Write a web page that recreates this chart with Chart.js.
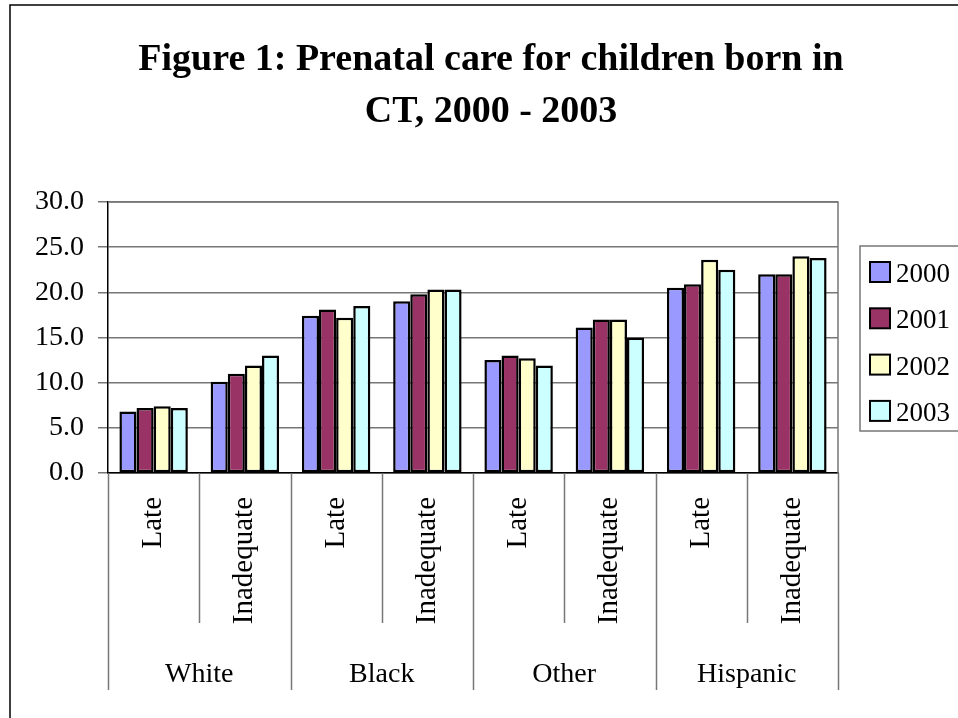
<!DOCTYPE html>
<html>
<head>
<meta charset="utf-8">
<script src="https://cdn.jsdelivr.net/npm/chart.js@4.4.1/dist/chart.umd.min.js"></script>
<style>
  html, body { margin: 0; padding: 0; background: #fff; }
  #wrap { width: 958px; height: 718px; }
</style>
</head>
<body>
<div id="wrap"><canvas id="grafico" width="958" height="718"></canvas></div>
<script>
// ================= DADOS =================
const tituloLinhas = ['Figure 1: Prenatal care for children born in', 'CT, 2000 - 2003'];
const grupos = ['White', 'Black', 'Other', 'Hispanic'];
const categorias = ['Late', 'Inadequate', 'Late', 'Inadequate', 'Late', 'Inadequate', 'Late', 'Inadequate'];
const anos = ['2000', '2001', '2002', '2003'];
const v2000 = [6.8, 10.1, 17.4, 19.0, 12.5, 16.1, 20.5, 22.0];
const v2001 = [7.2, 11.0, 18.1, 19.8, 13.0, 17.0, 20.9, 22.0];
const v2002 = [7.4, 11.9, 17.2, 20.3, 12.7, 17.0, 23.6, 24.0];
const v2003 = [7.2, 13.0, 18.5, 20.3, 11.9, 15.0, 22.5, 23.8];
const cores = ['#9999FF', '#993366', '#FFFFCC', '#CCFFFF'];

const FONTE = '"Liberation Serif", "Times New Roman", serif';

// ================= PLUGIN: moldura, título, eixo hierárquico, legenda =================
const desenhoExtra = {
  id: 'desenhoExtra',
  afterDraw(chart) {
    const c = chart.ctx;
    const area = chart.chartArea;
    const x = chart.scales.x;
    c.save();

    // moldura externa
    c.strokeStyle = '#000';
    c.lineWidth = 1.5;
    c.beginPath();
    c.moveTo(10, 718);
    c.lineTo(10, 5);
    c.lineTo(958, 5);
    c.stroke();

    // título
    c.fillStyle = '#000';
    c.font = 'bold 38px ' + FONTE;
    c.textAlign = 'center';
    c.textBaseline = 'alphabetic';
    c.fillText(tituloLinhas[0], 491, 70);
    c.fillText(tituloLinhas[1], 491, 122);

    // separadores do eixo x
    const passo = (area.right - area.left) / categorias.length;
    c.strokeStyle = '#777';
    c.lineWidth = 1.5;
    for (let i = 0; i <= categorias.length; i++) {
      const px = Math.round(area.left + i * passo) + 0.5;
      const fim = (i % 2 === 0) ? 690 : 623;
      c.beginPath();
      c.moveTo(px, area.bottom);
      c.lineTo(px, fim);
      c.stroke();
    }

    // rótulos dos grupos
    c.font = '28px ' + FONTE;
    c.fillStyle = '#000';
    grupos.forEach((g, i) => {
      const cx = (x.getPixelForValue(i * 2) + x.getPixelForValue(i * 2 + 1)) / 2;
      c.fillText(g, cx, 682);
    });

    // legenda
    c.strokeStyle = '#777';
    c.lineWidth = 1.5;
    c.strokeRect(860, 246, 120, 185);
    c.font = '27px ' + FONTE;
    chart.data.datasets.forEach((ds, i) => {
      const cy = 272 + i * 46.3;
      c.fillStyle = ds.backgroundColor;
      c.fillRect(870, cy - 10, 20, 20);
      c.strokeStyle = '#000';
      c.lineWidth = 2;
      c.strokeRect(870, cy - 10, 20, 20);
      c.fillStyle = '#000';
      c.textAlign = 'left';
      c.fillText(ds.label, 896, cy + 10);
    });
    c.restore();
  }
};

const series = [v2000, v2001, v2002, v2003];

new Chart(document.getElementById('grafico').getContext('2d'), {
  type: 'bar',
  data: {
    labels: categorias,
    datasets: anos.map((a, i) => ({
      label: a,
      data: series[i],
      backgroundColor: cores[i],
      borderColor: '#000',
      borderWidth: 2.5,
      borderSkipped: false,
      barPercentage: 1,
      categoryPercentage: 0.75
    }))
  },
  options: {
    responsive: false,
    animation: false,
    devicePixelRatio: 1,
    layout: { padding: { top: 202, left: 10, right: 120, bottom: 28 } },
    plugins: {
      legend: { display: false },
      title: { display: false },
      tooltip: { enabled: false }
    },
    scales: {
      x: {
        afterFit: s => { s.height = 217; },
        grid: { display: false, drawTicks: false },
        border: { display: true, color: '#000', width: 1.5 },
        ticks: {
          minRotation: 90,
          maxRotation: 90,
          padding: 24,
          color: '#000',
          font: { family: FONTE, size: 29 }
        }
      },
      y: {
        min: 0,
        max: 30,
        afterFit: s => { s.width = 98; },
        grid: { color: '#777', lineWidth: 1.5, tickLength: 10 },
        border: { display: true, color: '#000', width: 1.5 },
        ticks: {
          stepSize: 5,
          padding: 14,
          color: '#000',
          font: { family: FONTE, size: 28 },
          callback: v => v.toFixed(1)
        }
      }
    }
  },
  plugins: [desenhoExtra, {
    id: 'bordaArea',
    beforeDatasetsDraw(chart) {
      const a = chart.chartArea;
      const c = chart.ctx;
      c.save();
      c.strokeStyle = '#777';
      c.lineWidth = 1.5;
      c.beginPath();
      c.moveTo(a.left, a.top);
      c.lineTo(a.right, a.top);
      c.lineTo(a.right, a.bottom);
      c.stroke();
      c.restore();
    }
  }]
});
</script>
</body>
</html>
